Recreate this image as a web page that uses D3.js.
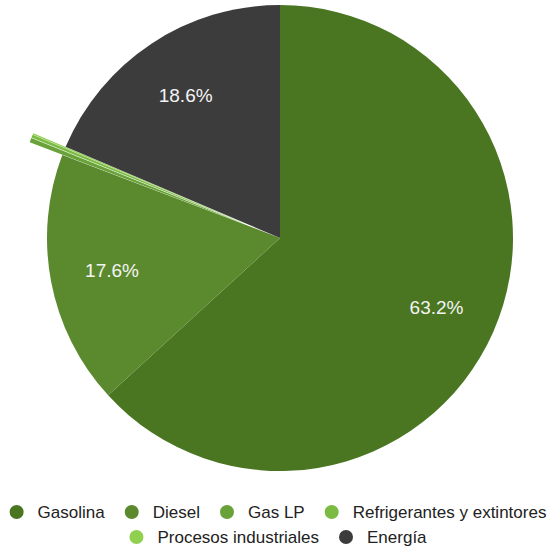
<!DOCTYPE html>
<html><head><meta charset="utf-8">
<script src="https://cdn.jsdelivr.net/npm/d3@7"></script>
<style>body{margin:0;background:#fff;}svg{display:block;font-family:"Liberation Sans",Arial,sans-serif;}</style>
</head><body><svg id="c" width="552" height="548"></svg>
<script>
const categories = ["Gasolina","Diesel","Gas LP","Refrigerantes y extintores","Procesos industriales","Energía"];
const values = [63.2, 17.6, 0.3, 0.2, 0.1, 18.6];
const labels = ["63.2%","17.6%","","","","18.6%"];
const colors = ["#4a7521","#5b8a2e","#6aa23a","#7bbb44","#90d04f","#3c3c3c"];
const exploded = [false,false,true,true,true,false];

const svg = d3.select("#c");
const cx = 280, cy = 238, R = 233, off = 35;
const pie = d3.pie().sort(null).value(d => d)(values);
const arc = d3.arc().innerRadius(0).outerRadius(R);
const g = svg.append("g").attr("transform", `translate(${cx},${cy})`);
g.selectAll("path").data(pie).join("path")
  .attr("d", arc)
  .attr("fill", (d,i) => colors[i])
  .attr("transform", (d,i) => {
    if (!exploded[i]) return null;
    const a = (d.startAngle + d.endAngle)/2;
    return `translate(${off*Math.sin(a)},${-off*Math.cos(a)})`;
  });
const lr = 171;
g.selectAll("text.lbl").data(pie).join("text").attr("class","lbl")
  .attr("x", d => lr*Math.sin((d.startAngle+d.endAngle)/2))
  .attr("y", d => -lr*Math.cos((d.startAngle+d.endAngle)/2))
  .attr("dy","0.35em").attr("text-anchor","middle")
  .attr("fill","#f4f4f4").attr("font-size",19)
  .text((d,i) => labels[i]);

// legend
const rows = [[0,1,2,3],[4,5]];
const rowY = [512, 537];
const fs = 17, dotR = 7, textOff = 21, gap = 20;
rows.forEach((row, ri) => {
  const lg = svg.append("g");
  let x = 0;
  row.forEach((i, k) => {
    const it = lg.append("g").attr("transform", `translate(${x},0)`);
    it.append("circle").attr("cx", dotR).attr("cy", 0).attr("r", dotR).attr("fill", colors[i]);
    const t = it.append("text").attr("x", dotR + textOff).attr("y", 0).attr("dy","0.35em")
      .attr("font-size", fs).attr("fill","#222").text(categories[i]);
    const w = t.node().getComputedTextLength();
    x += dotR + textOff + w + gap;
  });
  const total = x - gap;
  lg.attr("transform", `translate(${(552 - total)/2 + 2},${rowY[ri]})`);
});
</script></body></html>
